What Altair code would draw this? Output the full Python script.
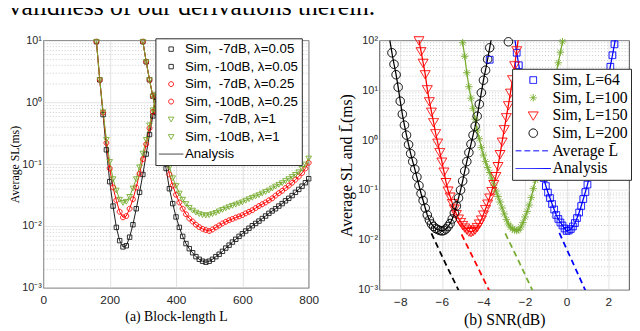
import altair as alt
import pandas as pd

SANS = "Liberation Sans"
SERIF = "Liberation Serif"

# ---------------- panel (a): Average SL vs block-length L ----------------
L_7dB = list(range(160, 380, 10))
sl_7dB_l005 = [9.5, 2.3, 0.63, 0.17, 0.052, 0.021, 0.0095, 0.0058, 0.0046, 0.0048, 0.0066,
               0.0105, 0.019, 0.035, 0.068, 0.145, 0.30, 0.60, 1.2, 2.4, 4.8, 9.5]
sl_7dB_l025 = [9.5, 2.3, 0.68, 0.22, 0.085, 0.042, 0.026, 0.017, 0.0138, 0.0145, 0.019,
               0.027, 0.042, 0.07, 0.12, 0.21, 0.38, 0.70, 1.3, 2.5, 4.8, 9.5]
sl_7dB_l1 = [9.5, 2.3, 0.70, 0.25, 0.11, 0.058, 0.038, 0.027, 0.024, 0.025, 0.030,
             0.041, 0.058, 0.09, 0.15, 0.25, 0.43, 0.75, 1.35, 2.6, 4.9, 9.5]

L_10dB = list(range(300, 810, 10))
sl_10dB_l005 = [9.5, 4.5, 2.3, 1.25, 0.68, 0.36, 0.18, 0.085, 0.040, 0.023,
                0.014, 0.0095, 0.0068, 0.0052, 0.0043, 0.0037, 0.0032, 0.0029, 0.0027, 0.0026,
                0.0027, 0.0029, 0.0032, 0.0035, 0.0039, 0.0044, 0.0049, 0.0055, 0.0061, 0.0068,
                0.0075, 0.0083, 0.0092, 0.0101, 0.011, 0.012, 0.0132, 0.0145, 0.016, 0.0175,
                0.019, 0.021, 0.023, 0.0255, 0.028, 0.031, 0.035, 0.039, 0.044, 0.050, 0.058]
sl_10dB_l025 = [9.5, 4.5, 2.3, 1.25, 0.72, 0.42, 0.24, 0.13, 0.068, 0.045,
                0.032, 0.024, 0.019, 0.0155, 0.0132, 0.0118, 0.0105, 0.0096, 0.009, 0.0086,
                0.0083, 0.0088, 0.0095, 0.0102, 0.011, 0.0117, 0.0124, 0.013, 0.0137, 0.0143,
                0.015, 0.016, 0.017, 0.018, 0.0195, 0.021, 0.0225, 0.024, 0.026, 0.028,
                0.031, 0.034, 0.037, 0.041, 0.045, 0.05, 0.056, 0.063, 0.072, 0.085, 0.105]
sl_10dB_l1 = [9.5, 4.5, 2.3, 1.25, 0.74, 0.44, 0.27, 0.16, 0.09, 0.06,
              0.045, 0.034, 0.027, 0.023, 0.020, 0.018, 0.0167, 0.0158, 0.0152, 0.015,
              0.0152, 0.0158, 0.0165, 0.0175, 0.0185, 0.0195, 0.0205, 0.0215, 0.0225, 0.0235,
              0.0245, 0.026, 0.0275, 0.029, 0.0305, 0.032, 0.034, 0.036, 0.038, 0.041,
              0.044, 0.047, 0.05, 0.054, 0.058, 0.063, 0.068, 0.075, 0.085, 0.1, 0.125]

leg_a = ["Sim,\u00a0 -7dB, \u03bb=0.05", "Sim, -10dB, \u03bb=0.05",
         "Sim,\u00a0 -7dB, \u03bb=0.25", "Sim, -10dB, \u03bb=0.25",
         "Sim,\u00a0 -7dB, \u03bb=1", "Sim, -10dB, \u03bb=1", "Analysis"]
col_a = ["#1a1a1a", "#1a1a1a", "#ff0000", "#ff0000", "#77ac30", "#77ac30", "#333333"]
# marker outlines drawn inside the unit box of a size-625 symbol (25 px wide)
SQ_A = "M-0.18,-0.18L0.18,-0.18L0.18,0.18L-0.18,0.18Z"
CI_A = "M-0.2,0A0.2,0.2,0,1,0,0.2,0A0.2,0.2,0,1,0,-0.2,0Z"
TR_A = "M-0.23,-0.16L0.23,-0.16L0,0.23Z"
shp_a = [SQ_A, SQ_A, CI_A, CI_A, TR_A, TR_A, "stroke"]
sw_a = [0.9, 0.9, 0.9, 0.9, 0.9, 0.9, 1.1]

series_a = [(leg_a[0], L_7dB, sl_7dB_l005), (leg_a[1], L_10dB, sl_10dB_l005),
            (leg_a[2], L_7dB, sl_7dB_l025), (leg_a[3], L_10dB, sl_10dB_l025),
            (leg_a[4], L_7dB, sl_7dB_l1), (leg_a[5], L_10dB, sl_10dB_l1)]
df_a = pd.DataFrame([{"L": x, "SL": y, "s": lab}
                     for lab, xs, ys in series_a for x, y in zip(xs, ys)])

# ---------------- panel (b): Average SL vs SNR ----------------
def grid(start, n):
    return [round(start + 0.1 * i, 2) for i in range(n)]

leg_b = ["Sim, L=64", "Sim, L=100", "Sim, L=150", "Sim, L=200", "Average L\u0304", "Analysis"]
col_b = ["#0000ff", "#77ac30", "#ff0000", "#000000", "#0000ff", "#0000ff"]
# marker outlines inside the unit box of a size-1296 symbol (36 px wide)
SQ_B = "M-0.19,-0.19L0.19,-0.19L0.19,0.19L-0.19,0.19Z"
ST_B = "M-0.21,0L0.21,0M0,-0.21L0,0.21M-0.15,-0.15L0.15,0.15M-0.15,0.15L0.15,-0.15"
TR_B = "M-0.28,-0.2L0.28,-0.2L0,0.27Z"
CI_B = "M-0.24,0A0.24,0.24,0,1,0,0.24,0A0.24,0.24,0,1,0,-0.24,0Z"
shp_b = [SQ_B, ST_B, TR_B, CI_B, "stroke", "stroke"]
sw_b = [1, 1, 1, 1, 1.8, 1.5]
dash_b = [[1, 0], [1, 0], [1, 0], [1, 0], [6, 3], [1, 0]]

# log10 of Average SL (ms), read on the log axis, SNR step 0.1 dB
snr_L64 = grid(-2.5, 49)
lg_L64 = [2.05, 1.75, 1.50, 1.27, 1.05, 0.85, 0.65, 0.46, 0.28, 0.10, -0.08,
          -0.24, -0.41, -0.57, -0.76, -0.92, -1.05, -1.16, -1.28, -1.39, -1.50,
          -1.58, -1.65, -1.71, -1.77, -1.82,
          -1.81, -1.78, -1.73, -1.66, -1.56, -1.45, -1.32, -1.18, -1.04, -0.89,
          -0.72, -0.52, -0.30, -0.08, 0.14, 0.36, 0.58, 0.80, 1.02, 1.25,
          1.47, 1.70, 1.92]
snr_L100 = grid(-5.0, 49)
lg_L100 = [1.95, 1.68, 1.35, 1.07, 0.84, 0.63, 0.42, 0.20, 0.03, -0.15, -0.30,
           -0.43, -0.55, -0.65, -0.76, -0.90, -1.02, -1.13, -1.24, -1.36, -1.48,
           -1.59, -1.68, -1.74, -1.78, -1.80, -1.81, -1.80, -1.74, -1.65, -1.54,
           -1.43, -1.30, -1.15, -0.97, -0.80, -0.62, -0.40, -0.18, 0.05, 0.28,
           0.50, 0.72, 0.93, 1.14, 1.35, 1.55, 1.76, 1.97]
snr_L150 = grid(-7.1, 48)
lg_L150 = [2.0, 1.78,
           1.55, 1.32, 1.02, 0.78, 0.57, 0.36, 0.14, -0.05, -0.24, -0.43,
           -0.63, -0.84, -1.01, -1.13, -1.26, -1.37, -1.48, -1.57, -1.64, -1.70,
           -1.75, -1.79, -1.83, -1.84, -1.82, -1.79, -1.74, -1.67, -1.59, -1.49,
           -1.38, -1.27, -1.15, -1.02, -0.88, -0.72, -0.52, -0.28, -0.03, 0.22,
           0.46, 0.70, 0.95, 1.22, 1.50, 1.80]
snr_L200 = grid(-8.4, 48)
lg_L200 = [1.75, 1.52, 1.31, 1.06, 0.78,
           0.52, 0.30, 0.10, -0.09, -0.27, -0.43, -0.58, -0.74, -0.91, -1.07,
           -1.21, -1.36, -1.50, -1.60, -1.68, -1.73, -1.77, -1.79, -1.81, -1.82,
           -1.81, -1.78, -1.73, -1.67, -1.58, -1.46, -1.32, -1.16, -1.00, -0.82,
           -0.62, -0.43, -0.25, -0.08, 0.10, 0.28, 0.48, 0.72, 0.95, 1.20,
           1.40, 1.62, 1.85]
# stray simulation points
odd_snr = [-3.7, -2.8]
odd_lg = [1.61, 1.97]
odd_series = ["Sim, L=64", "Sim, L=200"]
# analysis curves continue past the top edge
ana_ends = {"Sim, L=64": [(-2.6, 2.35), (2.4, 2.15)],
            "Sim, L=100": [(-5.1, 2.25), (-0.1, 2.18)],
            "Sim, L=150": [(-7.2, 2.3), (-2.3, 2.1)],
            "Sim, L=200": [(-8.5, 2.0), (-3.6, 2.08)]}
# Average L-bar (dashed)
avg_snr = {"Sim, L=64": [-0.35, 0.27, 0.92], "Sim, L=100": [-2.95, -2.3, -1.62],
           "Sim, L=150": [-5.05, -4.4, -3.68], "Sim, L=200": [-6.5, -5.85, -5.17]}
avg_lg = {"Sim, L=64": [-1.86, -2.43, -3.03], "Sim, L=100": [-1.87, -2.43, -3.03],
          "Sim, L=150": [-1.89, -2.44, -3.05], "Sim, L=200": [-1.87, -2.45, -3.03]}

sims_b = [(leg_b[0], snr_L64, lg_L64), (leg_b[1], snr_L100, lg_L100),
          (leg_b[2], snr_L150, lg_L150), (leg_b[3], snr_L200, lg_L200)]
rows_pts = [{"snr": x, "SL": 10 ** v, "s": lab} for lab, xs, vs in sims_b
            for x, v in zip(xs, vs) if v <= 2.0]
rows_pts += [{"snr": x, "SL": 10 ** v, "s": lab} for x, v, lab in zip(odd_snr, odd_lg, odd_series)]
df_b_pts = pd.DataFrame(rows_pts)
rows_ana = [{"snr": x, "SL": 10 ** v, "s": lab} for lab, xs, vs in sims_b for x, v in zip(xs, vs)]
rows_ana += [{"snr": x, "SL": 10 ** v, "s": lab} for lab, pts in ana_ends.items() for x, v in pts]
df_b_ana = pd.DataFrame(rows_ana)
df_b_avg = pd.DataFrame([{"snr": x, "SL": 10 ** v, "s": lab}
                         for lab in avg_snr for x, v in zip(avg_snr[lab], avg_lg[lab])])

# ---------------- helpers ----------------
SUP = {0.001: "10\u207b\u00b3", 0.01: "10\u207b\u00b2", 0.1: "10\u207b\u00b9",
       1: "10\u2070", 10: "10\u00b9", 100: "10\u00b2"}


def log_axis(majors, title, tsize, tpad, lsize):
    minors = [k * m for m in majors[:-1] for k in range(2, 10)]
    expr = " : ".join(f"datum.value == {m} ? '{SUP[m]}'" for m in majors) + " : ''"
    test = f"indexof({majors}, datum.value) >= 0"
    return alt.Axis(values=majors + minors, labelExpr=expr, grid=True,
                    gridColor={"condition": {"test": test, "value": "#d6d6d6"}, "value": "#b5b5b5"},
                    gridDash={"condition": {"test": test, "value": [1, 0]}, "value": [1, 2]},
                    gridWidth=0.7, ticks=False, domain=False, labelFont=SANS, labelFontSize=lsize,
                    labelColor="#262626", labelPadding=2, labelOverlap=False,
                    title=title, titleFont=SERIF, titleFontSize=tsize, titleFontWeight="normal",
                    titleColor="black", titlePadding=tpad)


def lin_axis(values, title, tsize):
    return alt.Axis(values=values, grid=True, gridColor="#d6d6d6", gridWidth=0.7, ticks=False,
                    domain=False, labelFlush=False, labelFont=SANS, labelFontSize=12,
                    labelColor="#262626", labelPadding=7, title=title, titleFont=SERIF,
                    titleFontSize=tsize, titleFontWeight="normal", titleColor="black",
                    titlePadding=4)


def make_legend(x, y, font, fsize, clip_h, row_pad, sym_size):
    return alt.Legend(title=None, orient="none", legendX=x, legendY=y, fillColor="white",
                      strokeColor="#262626", padding=3, cornerRadius=0, labelFont=font,
                      labelFontSize=fsize, labelColor="black", labelOffset=1,
                      clipHeight=clip_h, rowPadding=row_pad, symbolOffset=0, symbolOpacity=1,
                      symbolSize=sym_size)


# ---------------- chart (a) ----------------
xa = alt.X("L:Q", scale=alt.Scale(domain=[0, 800], nice=False, zero=False),
           axis=lin_axis([0, 200, 400, 600, 800], "(a) Block-length L", 14))
ya = alt.Y("SL:Q", scale=alt.Scale(type="log", domain=[0.001, 10], nice=False),
           axis=log_axis([0.001, 0.01, 0.1, 1, 10], "Average SL(ms)", 12, 0, 11))
leg_left = make_legend(114, -2, SANS, 13.5, 16, 1.8, 625)
color_a = alt.Scale(domain=leg_a, range=col_a)

lines_a = alt.Chart(df_a).mark_line(strokeWidth=1, clip=True).encode(
    x=xa, y=ya, color=alt.Color("s:N", scale=color_a, legend=leg_left), detail="s:N")
pts_a = alt.Chart(df_a).mark_point(filled=False, opacity=1, size=625).encode(
    x=xa, y=ya,
    color=alt.Color("s:N", scale=color_a, legend=leg_left),
    shape=alt.Shape("s:N", scale=alt.Scale(domain=leg_a, range=shp_a), legend=leg_left),
    strokeWidth=alt.StrokeWidth("s:N", scale=alt.Scale(domain=leg_a, range=sw_a), legend=leg_left))
left = alt.layer(lines_a, pts_a).properties(width=270, height=252)

# ---------------- chart (b) ----------------
xb = alt.X("snr:Q", scale=alt.Scale(domain=[-9, 3], nice=False, zero=False),
           axis=lin_axis([-8, -6, -4, -2, 0, 2], "(b) SNR(dB)", 16))
yb = alt.Y("SL:Q", scale=alt.Scale(type="log", domain=[0.001, 100], nice=False),
           axis=log_axis([0.001, 0.01, 0.1, 1, 10, 100], "Average SL and L\u0304(ms)", 16, 4, 11))
leg_right = make_legend(135, 29, SERIF, 16, 17, 1, 1296)
color_b = alt.Scale(domain=leg_b, range=col_b)

ana_b = alt.Chart(df_b_ana).mark_line(strokeWidth=1.3, clip=True).encode(
    x=xb, y=yb, color=alt.Color("s:N", scale=color_b, legend=leg_right), detail="s:N")
avg_b = alt.Chart(df_b_avg).mark_line(strokeWidth=1.8, strokeDash=[6, 4], clip=True).encode(
    x=xb, y=yb, color=alt.Color("s:N", scale=color_b, legend=leg_right), detail="s:N")
pts_b = alt.Chart(df_b_pts).mark_point(filled=False, opacity=1, size=1296).encode(
    x=xb, y=yb,
    color=alt.Color("s:N", scale=color_b, legend=leg_right),
    shape=alt.Shape("s:N", scale=alt.Scale(domain=leg_b, range=shp_b), legend=leg_right),
    strokeWidth=alt.StrokeWidth("s:N", scale=alt.Scale(domain=leg_b, range=sw_b), legend=leg_right),
    strokeDash=alt.StrokeDash("s:N", scale=alt.Scale(domain=leg_b, range=dash_b), legend=leg_right))
right = alt.layer(ana_b, avg_b, pts_b).properties(width=254, height=254)

chart = alt.hconcat(left, right, spacing=72, bounds="flush").resolve_scale(
    color="independent", shape="independent",
    strokeWidth="independent", strokeDash="independent"
).resolve_legend(
    color="independent", shape="independent",
    strokeWidth="independent", strokeDash="independent"
).properties(
    title=alt.TitleParams("validness of our derivations therein.", anchor="start", font=SERIF,
                          fontSize=26, fontWeight="normal", color="black", offset=14),
    padding={"left": 0, "top": -17, "right": 0, "bottom": 0},
).configure_view(stroke="#262626", strokeWidth=0.8)

chart.save("out.html", embed_options={"renderer": "svg", "actions": False})
